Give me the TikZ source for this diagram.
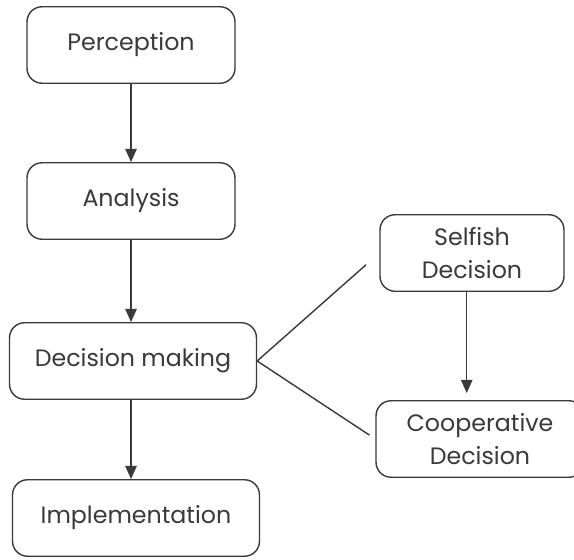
\documentclass[tikz,border=0pt]{standalone}
\usepackage{fontspec}
\setmainfont{Poppins}
\usetikzlibrary{positioning,arrows.meta}
\definecolor{inkgray}{HTML}{3A3A3A}
\tikzset{
  flowarrow/.style={-{Triangle[width=6.5pt, length=7.5pt]}, line width=0.8pt, draw=inkgray},
  linkline/.style={line width=0.8pt, draw=inkgray},
  stagebox/.style={draw=inkgray, line width=0.8pt, rounded corners=0.3cm, minimum width=4.16cm, minimum height=1.53cm, align=center, text=inkgray, font=\fontsize{13.5}{18.5}\selectfont},
  widebox/.style={stagebox, minimum width=4.94cm},
  choicebox/.style={stagebox, minimum width=3.68cm}
}

\begin{document}
\begin{tikzpicture}[x=0.02cm, y=-0.02cm]
  \useasboundingbox[fill=white] (0,0) rectangle (574,560);
  \node[stagebox] (perc) at (131,45) {Perception};
  \node[stagebox] (ana) at (131,201) {Analysis};
  \node[widebox] (dec) at (133,361) {Decision making};
  \node[widebox] (impl) at (136,518) {Implementation};
  \node[choicebox] (self) at (472,253) {Selfish\\Decision};
  \node[stagebox] (coop) at (480,439) {Cooperative\\Decision};
  \draw[flowarrow] (perc.south) -- (ana.north);
  \draw[flowarrow] (ana.south) -- (dec.north -| ana.south);
  \draw[flowarrow] (dec.south -| ana.south) -- (impl.north -| ana.south);
  \draw[linkline, shorten >=10pt] (dec.east) -- (self.west);
  \draw[linkline, shorten >=4pt] (dec.east) -- (coop.west);
  \draw[flowarrow, shorten >=4pt] ([xshift=-3pt]self.south) -- ([xshift=-3pt]self.south |- coop.north);
\end{tikzpicture}
\end{document}
